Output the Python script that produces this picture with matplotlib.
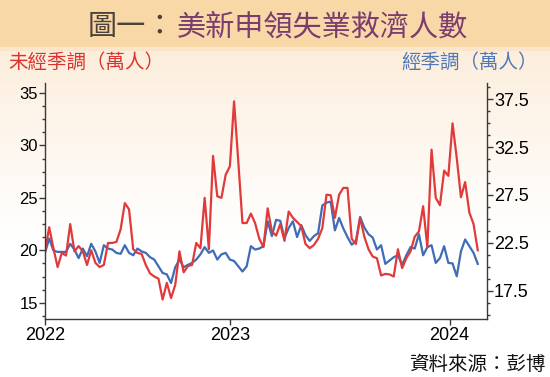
import matplotlib
matplotlib.use("Agg")
import matplotlib.pyplot as plt
import numpy as np
import pandas as pd
from matplotlib.colors import to_rgb
from matplotlib.ticker import MultipleLocator

# 每週數據（萬人），由 2022-02 至 2024-02
start = "2022-02-26"
red_nsa = [
    19.9, 22.2, 20.2, 18.4, 19.75, 19.5, 22.5, 19.9, 20.4, 19.9,
    18.6, 20.0, 18.8, 18.4, 18.6, 20.7, 20.7, 20.8, 22.0, 24.5,
    23.9, 20.1, 19.75, 19.65, 18.6, 17.8, 17.5, 17.3, 15.3, 16.9,
    15.45, 16.7, 19.9, 17.9, 18.5, 18.6, 20.7, 20.2, 25.0, 20.1,
    29.0, 25.15, 25.0, 27.2, 28.0, 34.2, 28.5, 22.6, 22.6, 23.5,
    22.6, 21.1, 20.3, 24.0, 21.8, 21.4, 22.5, 20.9, 23.7, 23.1,
    22.7, 22.3, 20.6, 20.2, 20.5, 21.1, 22.1, 25.3, 25.25, 23.1,
    25.3, 25.95, 25.95, 21.1, 20.6, 23.1, 21.3, 20.1, 19.4, 19.25,
    17.6, 17.75, 17.7, 17.5, 20.1, 18.3, 19.25, 19.9, 21.3, 21.8,
    24.2, 20.3, 29.6, 25.0, 24.3, 27.6, 27.1, 32.1, 28.8, 25.06,
    26.5, 23.6, 22.5, 20.0,
]
blue_sa = [
    21.45, 22.95, 21.7, 21.55, 21.55, 21.55, 22.4, 21.8, 20.9, 21.9,
    21.1, 22.4, 21.6, 20.4, 22.25, 21.9, 21.8, 21.45, 21.35, 22.25,
    21.45, 21.2, 21.9, 21.6, 21.45, 21.0, 20.75, 20.05, 19.35, 19.2,
    18.3, 19.95, 20.75, 19.95, 20.2, 20.4, 20.75, 21.3, 22.05, 21.45,
    21.7, 20.75, 21.3, 21.45, 20.75, 20.6, 20.05, 19.5, 20.05, 22.15,
    21.8, 21.9, 22.15, 24.75, 23.2, 24.9, 24.8, 23.0, 24.05, 24.75,
    23.1, 24.35, 23.3, 22.7, 23.2, 23.5, 26.4, 26.7, 26.8, 23.8,
    25.1, 24.0, 23.1, 22.3, 22.7, 25.2, 24.1, 23.4, 23.05, 21.8,
    22.25, 20.3, 20.65, 21.0, 21.2, 20.2, 21.2, 22.05, 21.9, 23.4,
    21.2, 22.05, 22.25, 20.4, 20.9, 22.15, 20.4, 20.35, 19.0, 21.6,
    22.85, 22.15, 21.45, 20.3,
]
year_ticks = [start, "2023-01-01", "2024-01-01"]
year_labels = ["2022", "2023", "2024"]

dates = pd.date_range(start, periods=len(red_nsa), freq="7D")

cjk = ["Noto Sans CJK TC", "DejaVu Sans"]
narrow = ["Liberation Sans Narrow", "Liberation Sans", "DejaVu Sans"]

fig = plt.figure(figsize=(5.5, 3.77), dpi=100)

# 背景：標題色帶 + 漸變
H = 377
rows = np.arange(H)
top_c = np.array(to_rgb("#FCEDDB"))
t = np.clip((rows - 48) / 190.0, 0, 1) ** 0.9
img = top_c[None, :] * (1 - t[:, None]) + t[:, None]
img[rows < 47] = to_rgb("#F9D8A8")
img[(rows >= 47) & (rows < 51)] = to_rgb("#FBE6CC")
bg = fig.add_axes([0, 0, 1, 1])
bg.imshow(img[:, None, :], aspect="auto", extent=[0, 1, 0, 1])
bg.axis("off")
bg.set_zorder(-5)

# 標題
fig.text(88 / 550, 1 - 27 / 377, "圖一：", fontsize=21, color="#4B403A",
         family=cjk, weight="medium", ha="left", va="center")
fig.text(177 / 550, 1 - 27 / 377, "美新申領失業救濟人數", fontsize=21, color="#7A3D6E",
         family=cjk, weight="medium", ha="left", va="center")
fig.text(8 / 550, 1 - 62 / 377, "未經季調（萬人）", fontsize=14, color="#D9342F",
         family=cjk, ha="left", va="center")
fig.text(538 / 550, 1 - 62 / 377, "經季調（萬人）", fontsize=14, color="#4F78B8",
         family=cjk, ha="right", va="center")
fig.text(546 / 550, 1 - 364 / 377, "資料來源：彭博", fontsize=14, color="#111111",
         family=cjk, ha="right", va="center")

ax = fig.add_axes([45 / 550, 1 - 319 / 377, (487 - 45) / 550, (319 - 83) / 377])
ax2 = ax.twinx()
ax.set_zorder(2)
ax2.set_zorder(1)
ax.patch.set_visible(False)

ax2.plot(dates, blue_sa, color="#3F6CB6", lw=1.6)
ax.plot(dates, red_nsa, color="#E03A3A", lw=1.6)

ax.set_xlim(pd.Timestamp(start), pd.Timestamp(start) + pd.Timedelta(weeks=105.2))
ax.set_ylim(13.45, 35.95)
ax2.set_ylim(14.54, 39.2)

ax.set_yticks([15, 20, 25, 30, 35])
ax.yaxis.set_minor_locator(MultipleLocator(1.25))
ax2.set_yticks([17.5, 22.5, 27.5, 32.5, 37.5])
ax2.yaxis.set_minor_locator(MultipleLocator(1.25))
ax.set_xticks(pd.to_datetime(year_ticks))
ax.set_xticklabels(year_labels)
ax.xaxis.set_minor_locator(plt.NullLocator())

for a in (ax, ax2):
    a.spines["top"].set_visible(False)
    for s in a.spines.values():
        s.set_color("#3A3A3A")
        s.set_linewidth(1.0)
ax.spines["right"].set_visible(False)
ax2.spines["left"].set_visible(False)
ax2.spines["bottom"].set_visible(False)

ax.tick_params(axis="y", which="major", direction="out", length=4, width=1, pad=1,
               labelsize=12, labelfontfamily=narrow, colors="#3A3A3A", labelcolor="black")
ax.tick_params(axis="y", which="minor", direction="out", length=2, width=1, colors="#3A3A3A")
ax2.tick_params(axis="y", which="major", direction="out", length=4, width=1, pad=1,
                labelsize=13, labelfontfamily=["Liberation Sans", "DejaVu Sans"],
                colors="#3A3A3A", labelcolor="black")
ax2.tick_params(axis="y", which="minor", direction="out", length=2, width=1, colors="#3A3A3A")
ax.tick_params(axis="x", direction="out", length=4, width=1, pad=2,
               labelsize=13, labelfontfamily=narrow, colors="#3A3A3A", labelcolor="black")

fig.savefig("out.png", dpi=100)
